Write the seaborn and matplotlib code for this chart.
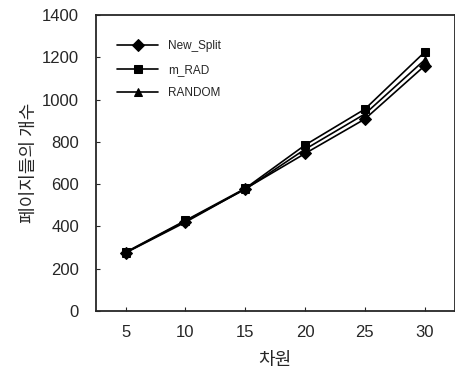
import pandas as pd
import seaborn as sns
import matplotlib.pyplot as plt

# Data
dims = [5, 10, 15, 20, 25, 30]
new_split = [275, 420, 578, 745, 908, 1160]
m_rad = [278, 428, 580, 785, 955, 1225]
random_ = [276, 425, 576, 765, 932, 1188]

df = pd.DataFrame({
    'dim': dims * 3,
    'pages': new_split + m_rad + random_,
    'method': ['New_Split'] * 6 + ['m_RAD'] * 6 + ['RANDOM'] * 6,
})

sns.set_style('ticks')
plt.rcParams['font.family'] = ['Liberation Sans', 'Noto Sans CJK KR', 'DejaVu Sans']

fig = plt.figure(figsize=(4.56, 3.76), dpi=100)
ax = fig.add_axes([0.21, 0.173, 0.787, 0.787])

sns.lineplot(data=df, x='dim', y='pages', style='method', color='black',
             markers=['D', 's', '^'], dashes=False, markersize=6,
             linewidth=1.2, markeredgecolor='black', ax=ax)

ax.set_xlim(2.5, 32.5)
ax.set_ylim(0, 1400)
ax.set_xticks(dims)
ax.set_yticks(range(0, 1401, 200))
ax.tick_params(direction='in', length=3, labelsize=12)
ax.tick_params(axis='y', pad=12)
ax.tick_params(axis='x', pad=10)
ax.set_xlabel('차원', fontsize=13, family=['Noto Sans CJK KR', 'DejaVu Sans'], labelpad=8)
ax.set_ylabel('페이지들의 개수', fontsize=13, family=['Noto Sans CJK KR', 'DejaVu Sans'], labelpad=3)
for s in ax.spines.values():
    s.set_linewidth(1.3)

leg = ax.legend(loc='upper left', frameon=False, fontsize=8.5, handlelength=3.5,
                bbox_to_anchor=(0.03, 0.95), labelspacing=0.95)

fig.savefig('out.png', dpi=100)
